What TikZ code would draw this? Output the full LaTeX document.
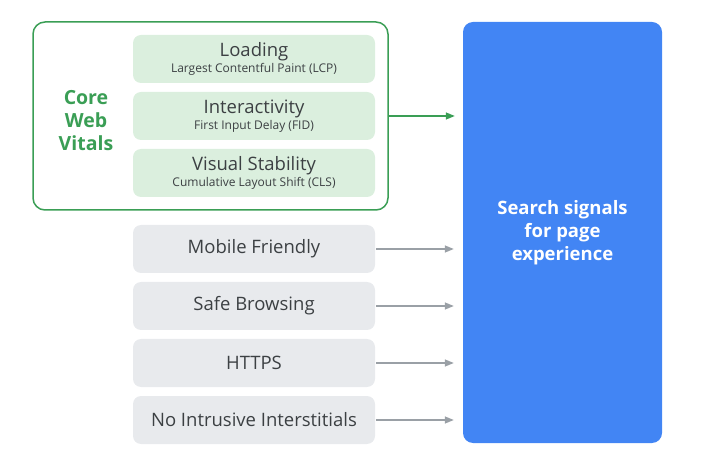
\documentclass[tikz,border=0pt]{standalone}
\usepackage{fontspec}
\setmainfont{Open Sans}
\usepackage{tikz}
\usetikzlibrary{arrows.meta}

\definecolor{cwvgreen}{HTML}{3A9E55}
\definecolor{cwvfill}{HTML}{DBEFDE}
\definecolor{sigfill}{HTML}{E8EAED}
\definecolor{sigblue}{HTML}{4285F4}
\definecolor{txtgray}{HTML}{3C4043}
\definecolor{arrgray}{HTML}{9AA0A6}

\tikzset{
  metric/.style={rounded corners=8pt, fill=cwvfill, minimum width=242pt, minimum height=48pt,
    inner sep=0pt, align=center, text=txtgray},
  signal/.style={rounded corners=8pt, fill=sigfill, minimum width=242pt, minimum height=48pt,
    inner sep=0pt, align=center, text=txtgray, font=\fontsize{18.5}{20}\selectfont},
  arr/.style={-{Triangle[length=9pt,width=7pt]}, line width=1.3pt}
}

\newcommand{\metrictext}[2]{{\fontsize{18.5}{18}\selectfont #1}\\[1pt]{\fontsize{12}{12}\selectfont #2}}

\begin{document}
\begin{tikzpicture}[x=1pt,y=-1pt]
			\useasboundingbox (0,0) rectangle (707,470);
			% core web vitals group
			\node[draw=cwvgreen, line width=1.5pt, rounded corners=12pt, minimum width=355pt,
				minimum height=188pt, inner sep=0pt] (cwv) at (210.5,116) {};
			\node[text=cwvgreen, align=center, font=\fontsize{19.5}{23}\selectfont\bfseries] (title) at (86,121) {Core\\Web\\Vitals};
			\node[metric] (m1) at (254,59) {\metrictext{Loading}{Largest Contentful Paint (LCP)}};
			\node[metric] (m2) at (254,116) {\metrictext{Interactivity}{First Input Delay (FID)}};
			\node[metric] (m3) at (254,173) {\metrictext{Visual Stability}{Cumulative Layout Shift (CLS)}};
			% page experience
			\node[rounded corners=10pt, fill=sigblue, minimum width=199pt, minimum height=421pt,
				inner sep=0pt, align=center, text=white, font=\fontsize{18.5}{23}\selectfont\bfseries] (signals) at (562.5,232.5) {Search signals\\for page\\experience};
			% other signals
			\foreach \i/\lbl in {1/Mobile Friendly,2/Safe Browsing,3/HTTPS,4/No Intrusive Interstitials} {
				\pgfmathsetmacro{\yy}{249 + (\i - 1) * 57}
				\node[signal] (s\i) at (254,\yy) {\lbl};
				\draw[arr, draw=arrgray, fill=arrgray, shorten <=1pt, shorten >=9pt] (s\i.east) -- (s\i.east -| signals.west);
			}
			\draw[arr, draw=cwvgreen, fill=cwvgreen, shorten >=8pt] (cwv.east) -- (cwv.east -| signals.west);
		\end{tikzpicture}
\end{document}
